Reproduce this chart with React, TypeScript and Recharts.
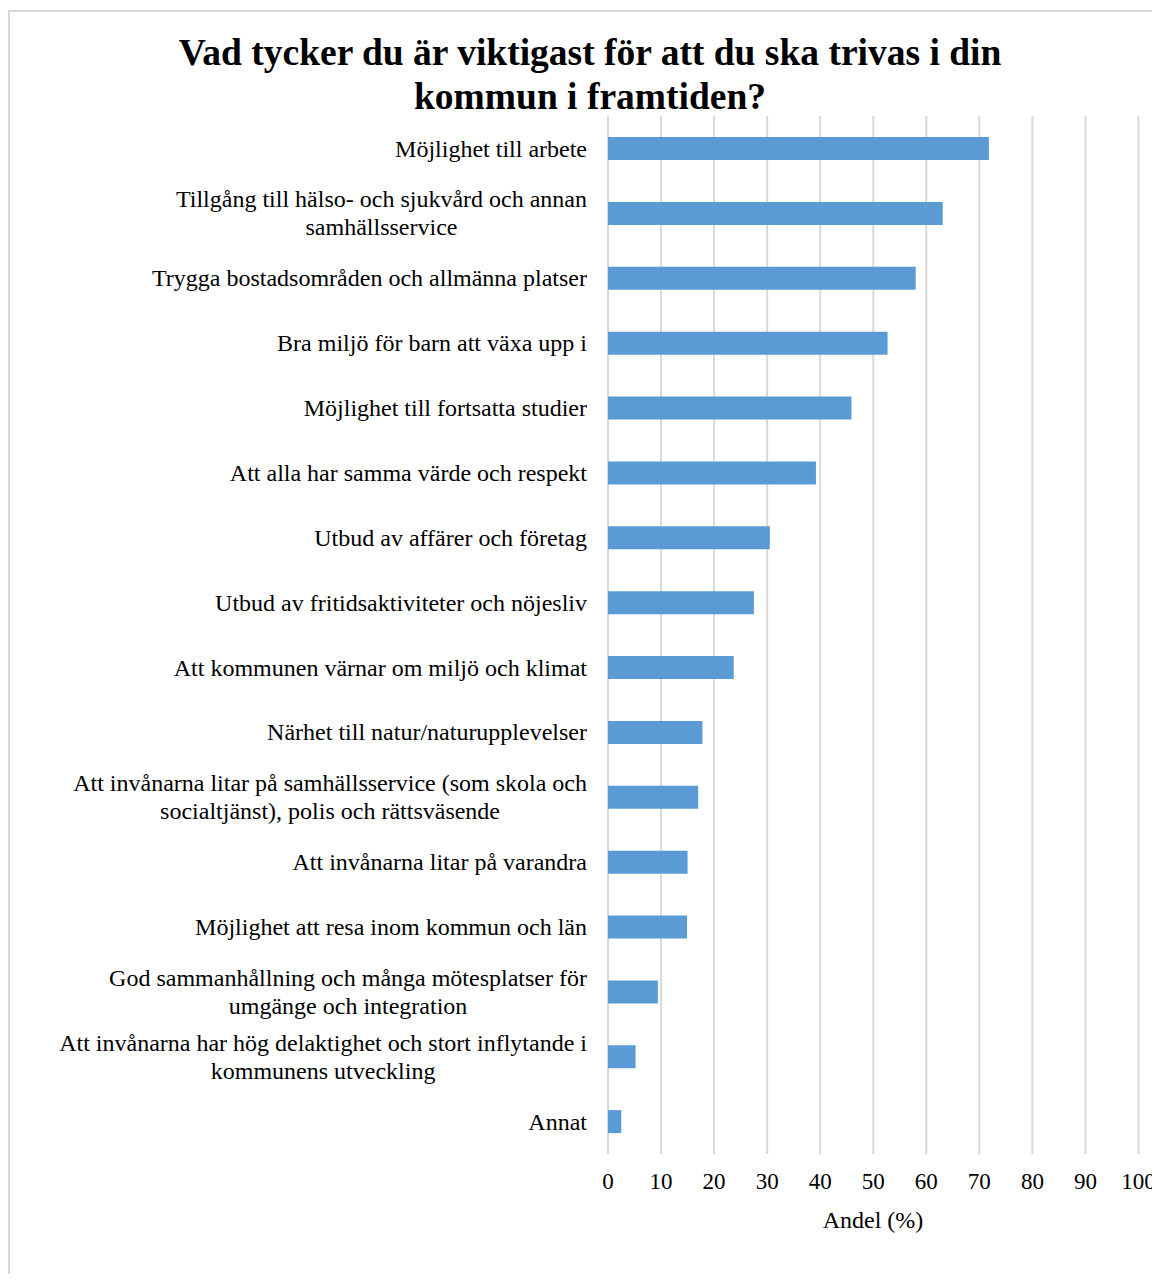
import React from "react"
import { Bar, BarChart, CartesianGrid, XAxis, YAxis } from "recharts"

const titleLines = ["Vad tycker du är viktigast för att du ska trivas i din", "kommun i framtiden?"]

const categories = [
  "Möjlighet till arbete",
  "Tillgång till hälso- och sjukvård och annan\nsamhällsservice",
  "Trygga bostadsområden och allmänna platser",
  "Bra miljö för barn att växa upp i",
  "Möjlighet till fortsatta studier",
  "Att alla har samma värde och respekt",
  "Utbud av affärer och företag",
  "Utbud av fritidsaktiviteter och nöjesliv",
  "Att kommunen värnar om miljö och klimat",
  "Närhet till natur/naturupplevelser",
  "Att invånarna litar på samhällsservice (som skola och\nsocialtjänst), polis och rättsväsende",
  "Att invånarna litar på varandra",
  "Möjlighet att resa inom kommun och län",
  "God sammanhållning och många mötesplatser för\numgänge och integration",
  "Att invånarna har hög delaktighet och stort inflytande i\nkommunens utveckling",
  "Annat",
]

const shares = [71.8, 63.1, 58.0, 52.7, 45.9, 39.2, 30.5, 27.5, 23.7, 17.8, 17.0, 15.0, 14.9, 9.4, 5.2, 2.5]

const xTicks = [0, 10, 20, 30, 40, 50, 60, 70, 80, 90, 100]
const axisTitle = "Andel (%)"

const data = categories.map((name, i) => ({ name, value: shares[i] }))

const FONT = "'Times New Roman', 'Liberation Serif', serif"
const LABEL_SIZE = 24

let ctx: CanvasRenderingContext2D | null = null
function textWidth(s: string) {
  if (!ctx) ctx = document.createElement("canvas").getContext("2d")
  if (!ctx) return s.length * LABEL_SIZE * 0.45
  ctx.font = `${LABEL_SIZE}px 'Liberation Serif'`
  return ctx.measureText(s).width
}

function CategoryTick(props: any) {
  const { x, y, payload } = props
  const lines: string[] = String(payload.value).split("\n")
  const right = x - 13
  const lineH = 28
  const widest = Math.max(...lines.map(textWidth))
  const cx = right - widest / 2
  const start = y - ((lines.length - 1) * lineH) / 2
  return (
    <text fontFamily={FONT} fontSize={LABEL_SIZE} fill="#000" textAnchor={lines.length > 1 ? "middle" : "end"}>
      {lines.map((l, i) => (
        <tspan key={i} x={lines.length > 1 ? cx : right} y={start + i * lineH} dy="0.34em">
          {l}
        </tspan>
      ))}
    </text>
  )
}

function NumberTick(props: any) {
  const { x, y, payload } = props
  return (
    <text x={x} y={y} dy={27} textAnchor="middle" fontFamily={FONT} fontSize={23} fill="#000">
      {payload.value}
    </text>
  )
}

export default function App() {
  return (
    <div style={{ position: "relative", width: 1152, height: 1266, fontFamily: FONT }}>
      <style>{`.recharts-surface { overflow: visible; }`}</style>
      <div
        style={{
          position: "absolute",
          left: 0,
          top: 2,
          width: 1150,
          height: 1264,
          borderLeft: "2px solid #d9d9d9",
          borderTop: "2px solid #d9d9d9",
        }}
      />
      <div
        style={{
          position: "absolute",
          left: 0,
          top: 23,
          width: 1164,
          textAlign: "center",
          fontWeight: "bold",
          fontSize: 37.5,
          lineHeight: "44px",
          color: "#000",
        }}
      >
        {titleLines.map((t) => (
          <div key={t}>{t}</div>
        ))}
      </div>
      <div style={{ position: "absolute", left: 0, top: 0 }}>
        <BarChart
          width={1152}
          height={1262}
          data={data}
          layout="vertical"
          margin={{ top: 108, right: 21.5, bottom: 56, left: 0 }}
        >
          <CartesianGrid horizontal={false} stroke="#d9d9d9" strokeWidth={2} />
          <XAxis
            type="number"
            domain={[0, 100]}
            ticks={xTicks}
            axisLine={false}
            tickLine={false}
            height={60}
            tick={<NumberTick />}
            interval={0}
          />
          <YAxis
            type="category"
            dataKey="name"
            width={600}
            axisLine={false}
            tickLine={false}
            interval={0}
            tick={<CategoryTick />}
          />
          <Bar dataKey="value" fill="#5b9bd5" barSize={23} isAnimationActive={false} />
        </BarChart>
      </div>
      <div
        style={{
          position: "absolute",
          left: 765,
          width: 200,
          top: 1198,
          textAlign: "center",
          fontSize: 24,
          lineHeight: "28px",
          color: "#000",
        }}
      >
        {axisTitle}
      </div>
    </div>
  )
}
